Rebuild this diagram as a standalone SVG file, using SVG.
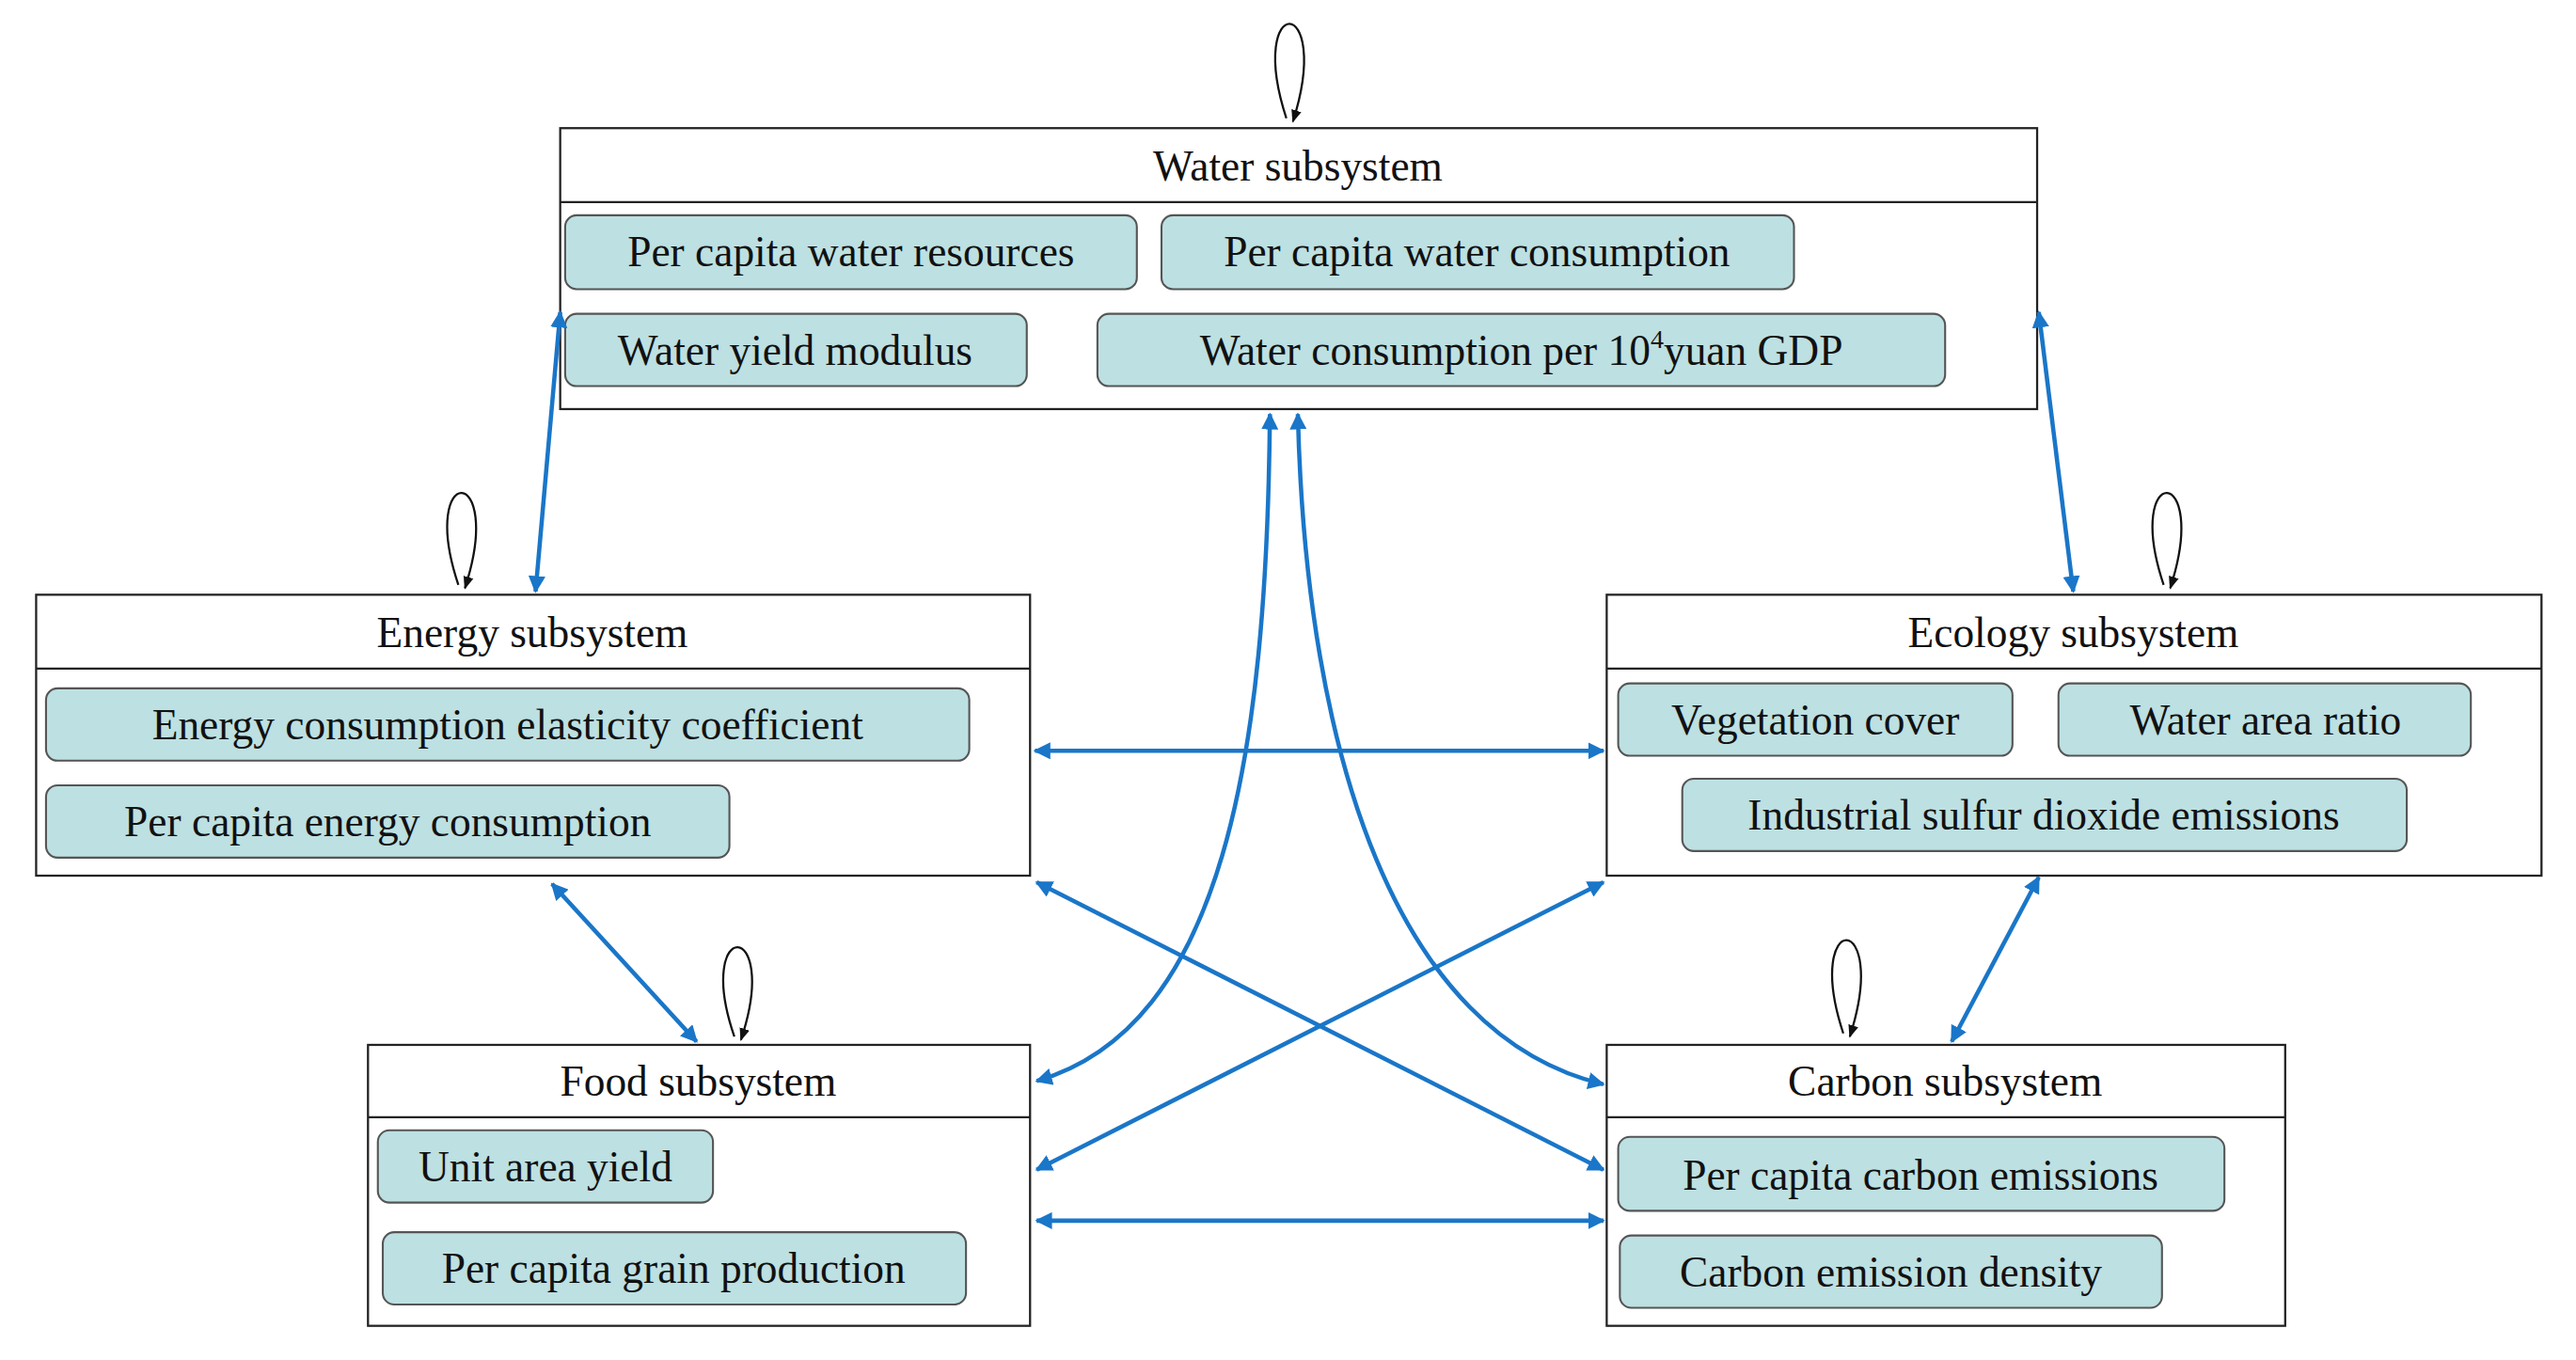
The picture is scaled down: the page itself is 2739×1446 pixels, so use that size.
<svg xmlns="http://www.w3.org/2000/svg" width="2739" height="1446" viewBox="0 0 2739 1446">
<style>
.box{fill:#fff;stroke:#222;stroke-width:1.3}
.it{fill:#bde0e2;stroke:#555;stroke-width:1.2}
text{font-family:"Liberation Serif","Times New Roman",serif;font-size:26px;fill:#111;text-anchor:middle}
.c{fill:none;stroke:#1a76c8;stroke-width:2.6;marker-start:url(#a);marker-end:url(#a)}
.loop{fill:none;stroke:#111;stroke-width:1.3;marker-end:url(#k)}
</style>
<defs>
<marker id="a" viewBox="0 0 10 10" refX="9" refY="5" markerWidth="4" markerHeight="4" orient="auto-start-reverse"><path d="M0,0L10,5L0,10z" fill="#1a76c8"/></marker>
<marker id="k" viewBox="0 0 10 10" refX="9" refY="5" markerWidth="6" markerHeight="6" orient="auto"><path d="M0,1L10,5L0,9z" fill="#111"/></marker>
</defs>
<rect width="2739" height="1446" fill="#fff"/>
<g transform="scale(1.7468)">
<g id="water">
<rect class="box" x="341" y="78" width="899" height="171"/><line class="box" x1="341" y1="123" x2="1240" y2="123"/>
<text x="790" y="110">Water subsystem</text>
<rect class="it" x="344" y="131" width="348" height="45" rx="7"/><text x="518" y="162">Per capita water resources</text>
<rect class="it" x="707" y="131" width="385" height="45" rx="7"/><text x="899" y="162">Per capita water consumption</text>
<rect class="it" x="344" y="191" width="281" height="44" rx="7"/><text x="484" y="222">Water yield modulus</text>
<rect class="it" x="668" y="191" width="516" height="44" rx="7"/><text x="926" y="222">Water consumption per 10<tspan dy="-10" font-size="16">4</tspan><tspan dy="10">yuan GDP</tspan></text>
<path class="loop" d="M783,72 C758,-5 812,-5 787,74"/>
</g>
<g id="energy">
<rect class="box" x="22" y="362" width="605" height="171"/><line class="box" x1="22" y1="407" x2="627" y2="407"/>
<text x="324" y="394">Energy subsystem</text>
<rect class="it" x="28" y="419" width="562" height="44" rx="7"/><text x="309" y="450">Energy consumption elasticity coefficient</text>
<rect class="it" x="28" y="478" width="416" height="44" rx="7"/><text x="236" y="509">Per capita energy consumption</text>
<path class="loop" d="M279,356 C254,281 308,281 283,358"/>
</g>
<g id="ecology">
<rect class="box" x="978" y="362" width="569" height="171"/><line class="box" x1="978" y1="407" x2="1547" y2="407"/>
<text x="1262" y="394">Ecology subsystem</text>
<rect class="it" x="985" y="416" width="240" height="44" rx="7"/><text x="1105" y="447">Vegetation cover</text>
<rect class="it" x="1253" y="416" width="251" height="44" rx="7"/><text x="1379" y="447">Water area ratio</text>
<rect class="it" x="1024" y="474" width="441" height="44" rx="7"/><text x="1244" y="505">Industrial sulfur dioxide emissions</text>
<path class="loop" d="M1317,356 C1292,281 1346,281 1321,358"/>
</g>
<g id="food">
<rect class="box" x="224" y="636" width="403" height="171"/><line class="box" x1="224" y1="680" x2="627" y2="680"/>
<text x="425" y="667">Food subsystem</text>
<rect class="it" x="230" y="688" width="204" height="44" rx="7"/><text x="332" y="719">Unit area yield</text>
<rect class="it" x="233" y="750" width="355" height="44" rx="7"/><text x="410" y="781">Per capita grain production</text>
<path class="loop" d="M447,631 C422,558 476,558 451,633"/>
</g>
<g id="carbon">
<rect class="box" x="978" y="636" width="413" height="171"/><line class="box" x1="978" y1="680" x2="1391" y2="680"/>
<text x="1184" y="667">Carbon subsystem</text>
<rect class="it" x="985" y="692" width="369" height="45" rx="7"/><text x="1169" y="724">Per capita carbon emissions</text>
<rect class="it" x="986" y="752" width="330" height="44" rx="7"/><text x="1151" y="783">Carbon emission density</text>
<path class="loop" d="M1122,629 C1097,553 1151,553 1126,631"/>
</g>
<g id="connectors">
<path class="c" d="M341,190 L326,360"/>
<path class="c" d="M1241,190 L1262,360"/>
<path class="c" d="M630,457 L976,457"/>
<path class="c" d="M336,538 L424,634"/>
<path class="c" d="M1241,534 L1188,634"/>
<path class="c" d="M631,537 L976,712"/>
<path class="c" d="M976,537 L631,712"/>
<path class="c" d="M631,743 L976,743"/>
<path class="c" d="M773,252 C771,460 745,625 631,658"/>
<path class="c" d="M790,252 C795,460 850,630 976,660"/>
</g>
</g>
</svg>
